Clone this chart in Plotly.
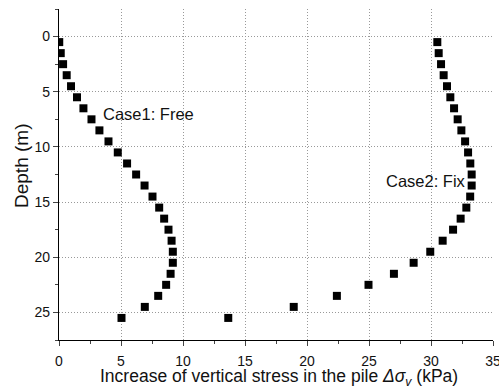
import plotly.graph_objects as go

depth = [0.5, 1.5, 2.5, 3.5, 4.5, 5.5, 6.5, 7.5, 8.5, 9.5, 10.5, 11.5, 12.5,
         13.5, 14.5, 15.5, 16.5, 17.5, 18.5, 19.5, 20.5, 21.5, 22.5, 23.5, 24.5, 25.5]
case1_free = [0.02, 0.14, 0.33, 0.62, 0.97, 1.45, 1.97, 2.62, 3.26, 3.99, 4.74, 5.49, 6.22,
              6.90, 7.54, 8.08, 8.48, 8.83, 9.08, 9.18, 9.18, 9.0, 8.64, 8.0, 6.92, 5.04]
case2_fix = [30.51, 30.62, 30.81, 31.02, 31.29, 31.56, 31.86, 32.15, 32.45, 32.75, 32.99, 33.17, 33.28,
             33.28, 33.16, 32.85, 32.39, 31.78, 30.94, 29.94, 28.6, 27.01, 24.96, 22.41, 18.93, 13.65]
x_ticks = [0, 5, 10, 15, 20, 25, 30, 35]
y_ticks = [0, 5, 10, 15, 20, 25]

font_family = "Liberation Sans, Arial, sans-serif"

fig = go.Figure()
for vals in (case1_free, case2_fix):
    fig.add_trace(go.Scatter(x=vals, y=depth, mode="markers",
                             marker=dict(symbol="square", size=8, color="black"),
                             showlegend=False))

fig.add_annotation(x=3.37, y=7.0, text="Case1: Free", showarrow=False, xanchor="left",
                   font=dict(family=font_family, size=16.5, color="#111"))
fig.add_annotation(x=26.2, y=13.1, text="Case2: Fix", showarrow=False, xanchor="left",
                   font=dict(family=font_family, size=16.5, color="#111"))
fig.add_annotation(xref="paper", yref="paper", x=0.507, y=-0.112, yanchor="middle",
                   text="Increase of vertical stress in the pile <i>Δσ<sub>v</sub></i> (kPa)",
                   showarrow=False, font=dict(family=font_family, size=17.5, color="#111"))
fig.add_annotation(xref="paper", yref="paper", x=-0.085, y=0.526, textangle=-90,
                   xanchor="center", yanchor="middle", text="Depth (m)",
                   showarrow=False, font=dict(family=font_family, size=19, color="#111"))

grid = dict(showgrid=True, gridcolor="#999", griddash="1px,2px", gridwidth=1)

fig.update_layout(
    width=499, height=388,
    margin=dict(l=59, r=6, t=9, b=48, autoexpand=False),
    plot_bgcolor="white", paper_bgcolor="white",
    font=dict(family=font_family, size=14, color="#111"),
    xaxis=dict(range=[0, 35], tickvals=x_ticks, ticks="outside", ticklen=5,
               ticklabelstandoff=3, ticklabeloverflow="allow", automargin=False,
               showline=True, linecolor="black", linewidth=1.3, zeroline=False,
               minor=dict(dtick=2.5, tick0=0, ticks="outside", ticklen=3, showgrid=False),
               **grid),
    yaxis=dict(range=[27.5, -2.5], tickvals=y_ticks, ticks="outside", ticklen=5,
               automargin=False,
               showline=True, linecolor="black", linewidth=1.3, zeroline=False,
               minor=dict(dtick=2.5, tick0=0, ticks="outside", ticklen=3, showgrid=False),
               **grid),
)

fig.write_html("out.html")
